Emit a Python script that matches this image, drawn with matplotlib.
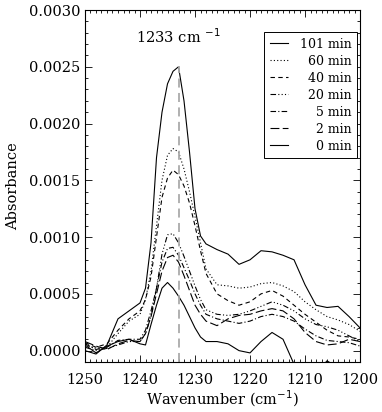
import numpy as np
import matplotlib
matplotlib.use('Agg')
import matplotlib.pyplot as plt
from matplotlib.ticker import MultipleLocator, FormatStrFormatter

plt.rcParams['font.family'] = ['DejaVu Serif']

# Wavenumber grid (cm^-1) and absorbance spectra (units of 1e-4)
wavenumber = [1250, 1248, 1246, 1244, 1242, 1240, 1239, 1238, 1237, 1236, 1235,
              1234, 1233, 1232, 1231, 1230, 1229, 1228, 1226, 1224, 1222, 1220,
              1218, 1216, 1214, 1212, 1210, 1208, 1206, 1204, 1202, 1200]

abs_101 = [0.0, -0.3, 0.5, 2.8, 3.5, 4.2, 5.5, 9.5, 17.0, 21.0, 23.5,
           24.6, 25.0, 22.0, 17.5, 12.5, 10.1, 9.4, 8.9, 8.5, 7.6, 8.0,
           8.8, 8.7, 8.4, 8.0, 5.8, 4.0, 3.8, 3.9, 3.0, 2.0]
abs_60 = [0.5, 0.2, 0.3, 1.5, 2.6, 3.2, 4.5, 7.0, 11.0, 15.0, 17.2,
          17.8, 17.5, 16.0, 14.0, 11.8, 9.5, 7.2, 5.8, 5.7, 5.5, 5.6,
          5.9, 6.0, 5.7, 5.2, 4.3, 3.6, 3.0, 2.7, 2.3, 1.7]
abs_40 = [0.7, 0.3, 0.6, 1.8, 2.8, 3.5, 4.5, 6.5, 10.0, 13.5, 15.2,
          15.9, 15.5, 14.5, 13.0, 11.0, 8.8, 6.8, 5.0, 4.4, 4.0, 4.3,
          5.0, 5.3, 4.8, 4.0, 3.2, 2.5, 1.8, 1.3, 1.2, 1.0]
abs_20 = [0.3, 0.0, 0.2, 0.5, 0.8, 0.8, 1.5, 3.0, 5.5, 8.5, 10.2,
          10.3, 9.5, 8.3, 7.0, 5.7, 4.5, 3.6, 3.2, 3.1, 3.2, 3.5,
          3.9, 4.3, 4.0, 3.5, 2.8, 2.3, 2.1, 1.8, 1.3, 0.8]
abs_5 = [0.6, 0.1, 0.3, 0.9, 1.0, 1.0, 1.8, 3.5, 5.5, 7.8, 9.0,
         9.1, 8.4, 7.3, 6.2, 5.0, 4.0, 3.2, 2.8, 2.6, 2.4, 2.6,
         3.0, 3.2, 3.0, 2.6, 1.9, 1.3, 0.9, 0.8, 0.7, 0.4]
abs_2 = [0.8, 0.4, 0.1, 0.6, 0.9, 0.8, 1.5, 3.0, 5.0, 7.0, 8.2,
         8.4, 7.8, 6.6, 5.3, 4.0, 3.2, 2.6, 2.2, 2.8, 3.1, 3.2,
         3.5, 3.7, 3.5, 2.8, 1.6, 0.8, 0.5, 0.6, 1.0, 0.8]
abs_0 = [0.5, -0.2, 0.4, 0.8, 1.0, 0.6, 0.5, 2.3, 4.0, 5.5, 6.0,
         5.5, 4.8, 4.0, 3.0, 2.0, 1.2, 0.8, 0.8, 0.6, 0.0, -0.2,
         0.8, 1.6, 1.0, -1.2, -3.0, -2.0, -0.9, -1.5, -3.0, -4.0]

labels = ['101 min', '\u200760 min', '\u200740 min', '\u200720 min',
          '\u2007\u20075 min', '\u2007\u20072 min', '\u2007\u20070 min']
styles = ['-', (0, (1, 2)), (0, (4, 3)), (0, (5, 2, 1, 2, 1, 2, 1, 2)),
          (0, (5, 2, 1, 2)), (0, (8, 3)), '-']

peak_wn = 1233

fig = plt.figure(figsize=(3.82, 4.12), dpi=100)
ax = fig.add_axes([0.2225, 0.1214, 0.72, 0.8543])

series = [abs_101, abs_60, abs_40, abs_20, abs_5, abs_2, abs_0]
for vals, lab, ls in zip(series, labels, styles):
    ax.plot(wavenumber, np.array(vals) * 1e-4, color='black', lw=0.8,
            linestyle=ls, label=lab)

ax.vlines(peak_wn, -0.0001, 0.00251, colors='#aaaaaa', linestyles=(0, (5, 3)), lw=1.3)
ax.text(peak_wn, 0.00268, '1233 cm $^{-1}$', ha='center', va='bottom', fontsize=10.5)

ax.set_xlim(1250, 1200)
ax.set_ylim(-0.0001, 0.0030)
ax.xaxis.set_major_locator(MultipleLocator(10))
ax.xaxis.set_minor_locator(MultipleLocator(1))
ax.yaxis.set_major_locator(MultipleLocator(0.0005))
ax.yaxis.set_minor_locator(MultipleLocator(0.0001))
ax.yaxis.set_major_formatter(FormatStrFormatter('%.4f'))
ax.tick_params(which='both', direction='in', top=True, right=True, labelsize=10.5,
               width=0.6)
ax.tick_params(which='major', length=5)
ax.tick_params(which='minor', length=2.5)
ax.tick_params(axis='x', pad=8)
for s in ax.spines.values():
    s.set_linewidth(0.8)

ax.set_xlabel('Wavenumber (cm$^{-1}$)', fontsize=10.5, labelpad=1)
ax.set_ylabel('Absorbance', fontsize=10.5, labelpad=6)

leg = ax.legend(loc='upper right', bbox_to_anchor=(0.989, 0.9375), borderaxespad=0,
                fontsize=9, handlelength=1.5, handletextpad=0.9, fancybox=False,
                edgecolor='black', framealpha=1, borderpad=0.45, labelspacing=0.32)
leg.get_frame().set_linewidth(0.7)

fig.savefig('out.png', dpi=100)
